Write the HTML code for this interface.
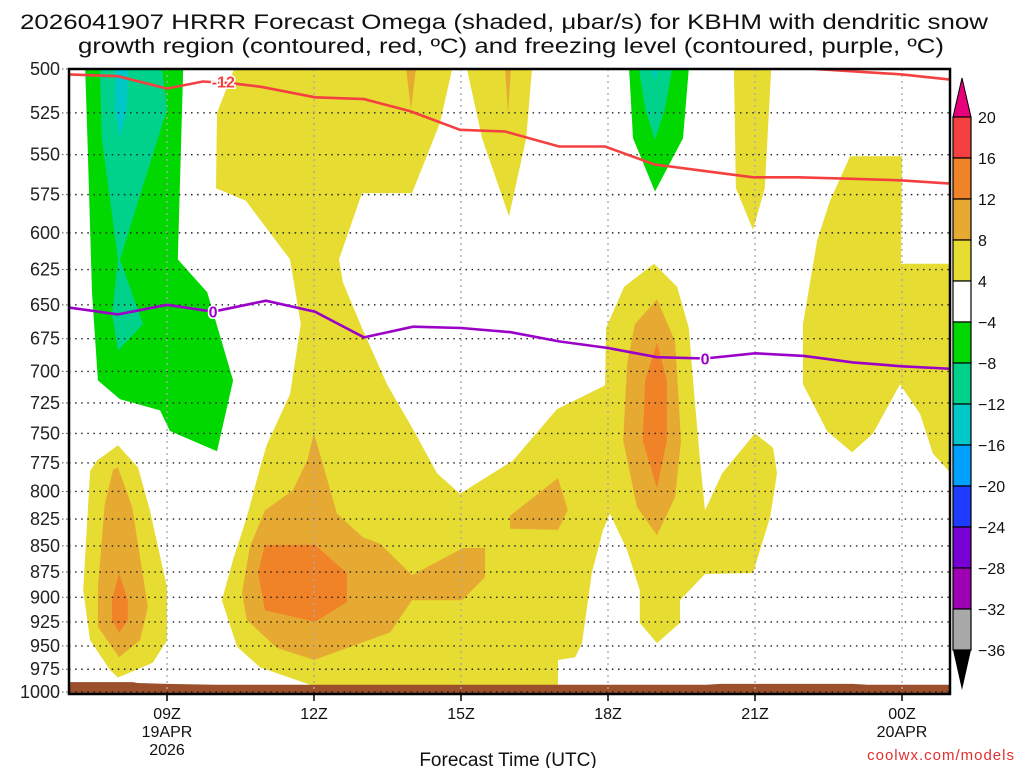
<!DOCTYPE html>
<html><head><meta charset="utf-8"><style>
html,body{margin:0;padding:0;background:#fff;}
svg{display:block;font-family:"Liberation Sans",sans-serif;}
</style></head><body>
<svg id="chart" width="1024" height="768" viewBox="0 0 1024 768" xmlns="http://www.w3.org/2000/svg">
<text x="20" y="29" font-size="21" textLength="968" lengthAdjust="spacingAndGlyphs" fill="#111">2026041907 HRRR Forecast Omega (shaded, μbar/s) for KBHM with dendritic snow</text>
<text x="78" y="53" font-size="21" textLength="866" lengthAdjust="spacingAndGlyphs" fill="#111">growth region (contoured, red, ºC) and freezing level (contoured, purple, ºC)</text>
<g id="plot"></g>
<g id="axes"></g>
<g id="cbar"></g>
<text x="508" y="766" font-size="19" text-anchor="middle" fill="#111">Forecast Time (UTC)</text>
<text x="1015" y="760" font-size="15" text-anchor="end" fill="#e03030" letter-spacing="1">coolwx.com/models</text>
</svg>
<script>
// ---- data (hour of forecast, pressure hPa) ----
const pressureTicks=[500,525,550,575,600,625,650,675,700,725,750,775,800,825,850,875,900,925,950,975,1000];
const timeTickHours=[9,12,15,18,21,24];
const timeTickLabels=[["09Z","19APR","2026"],["12Z"],["15Z"],["18Z"],["21Z"],["00Z","20APR"]];
const cbarLevels=[20,16,12,8,4,-4,-8,-12,-16,-20,-24,-28,-32,-36];
const cbarColors=["#f44040","#f08228","#e6aa32","#e6dc32","#ffffff","#00d800","#00d28c","#00c8c8","#00a0ff","#1e3cff","#7800d2","#a000b4","#a8a8a8"];
// shaded regions
const greenWest=[[7.33,500],[9.33,500],[9.22,618],[9.82,641],[10.35,707],[10.02,765],[9.06,748],[8.86,731],[8.04,722],[7.59,707],[7.47,641],[7.37,534]];
const tealWest=[[7.63,500],[8.9,500],[9.0,523],[8.04,618],[8.51,664],[8.0,684],[7.88,656],[8.0,618],[7.67,540]];
const cyanWest=[[7.94,500],[8.2,500],[8.18,523],[8.04,540],[7.94,523]];
const greenEast=[[18.43,500],[19.65,500],[19.53,540],[18.96,573],[18.51,540]];
const tealEast=[[18.63,500],[19.31,500],[19.16,523],[18.96,541],[18.76,523]];
const cyanEast=[[18.9,500],[19.02,500],[18.96,506]];
const yellowMain=[[10.37,500],[14.82,500],[14.57,531],[14.0,574],[12.98,574],[12.51,618],[12.59,634],[12.98,667],[13.49,710],[14.04,748],[14.51,784],[14.98,802],[16.06,773],[16.96,730],[17.94,711],[17.96,667],[18.33,637],[18.94,621],[19.41,637],[19.65,667],[19.76,718],[19.88,773],[19.98,817],[20.33,784],[21.0,750],[21.37,762],[21.45,784],[21.31,823],[20.96,876],[19.98,877],[19.47,903],[19.47,926],[19.0,947],[18.65,926],[18.65,893],[18.39,854],[18.04,820],[17.9,835],[17.67,876],[17.47,947],[17.33,962],[16.98,965],[16.98,995],[12.84,995],[11.98,993],[10.9,973],[10.43,951],[10.12,903],[10.35,863],[10.63,823],[10.9,779],[11.04,759],[11.51,718],[11.73,664],[11.51,618],[11.08,599],[10.61,579],[10.0,571],[10.02,525]];
const yellowLobe16=[[15.12,500],[15.43,540],[15.98,589],[16.33,540],[16.45,500]];
const yellowLobe21=[[20.57,500],[20.61,571],[20.96,598],[21.2,571],[21.33,500]];
const yellowEast=[[22.94,551],[24.0,551],[23.98,621],[25.0,621],[25.0,784],[24.63,767],[24.37,734],[23.96,710],[23.41,750],[22.98,766],[22.47,748],[21.98,710],[21.98,664],[22.27,605],[22.53,579]];
const yellowWest=[[8.0,760],[8.41,779],[8.65,817],[9.0,890],[9.0,944],[8.71,968],[8.0,984],[7.84,976],[7.43,944],[7.29,893],[7.43,782],[7.57,773]];
const orangeWest=[[8.0,779],[8.29,814],[8.61,910],[8.45,944],[8.02,962],[7.59,930],[7.59,890],[7.73,811],[7.9,781]];
const darkOrangeWest=[[8.02,876],[8.2,903],[8.2,923],[8.02,936],[7.88,923],[7.88,903]];
const orangeMain=[[12.0,750],[12.47,820],[13.0,842],[13.35,848],[14.0,878],[15.04,852],[15.49,852],[15.49,880],[15.02,903],[14.0,903],[13.55,936],[13.0,946],[12.0,965],[11.24,952],[10.63,923],[10.53,896],[10.69,851],[11.0,817],[11.57,799],[11.86,773]];
const darkOrangeMain=[[11.0,849],[12.02,849],[12.67,876],[12.67,905],[12.02,925],[11.0,913],[10.86,876]];
const orangeSmall=[[16.0,822],[16.98,788],[17.18,817],[16.98,835],[16.0,834]];
const orange19=[[19.0,646],[19.37,677],[19.49,756],[19.37,805],[19.0,840],[18.59,814],[18.31,756],[18.39,694],[18.55,664]];
const darkOrange19=[[19.0,678],[19.2,707],[19.2,756],[19.0,797],[18.71,756],[18.76,707]];
const orangeSliverA=[[13.88,500],[14.08,500],[13.98,523]];
const orangeSliverB=[[15.9,500],[16.02,500],[15.96,525]];
// contour lines
const dgzHours=[7,8,9,9.73,10.33,10.92,12.02,13.02,13.96,14.98,15.9,17,17.94,18.94,19.96,20.96,21.88,23,24,25];
const dgzPressure=[503,504,511,507,508,510,516,517,524,535,536,545,545,556,560,564,564,565,566,568];
const dgz2Hours=[22.22,24,25];
const dgz2Pressure=[500,503,506];
const frzHours=[7,8,9,9.94,11.02,12.02,13.02,14.02,15,16,17,18,19,19.98,21,22,23,24,25];
const frzPressure=[652,657,650,655,647,655,674,666,667,670,677,682,689,690,686,688,693,696,698];
const sfcHours=[7,8,8.3,8.4,9,10,12,14,16,18,20,20.3,21,22,23,23.3,25];
const sfcPressure=[989,989,989,990,991,992,992,992,992,992,992,991,991,991,991,992,992];

// ---- scales ----
const X0=69,X1=950,Y0=69,Y1=692;
function xS(h){return X0+(h-7)*49;}
function yS(p){return Y0+Math.log(p/500)/Math.log(2)*(Y1-Y0);}
const NS="http://www.w3.org/2000/svg";
function mk(tag,parent){const e=document.createElementNS(NS,tag);parent.appendChild(e);return e;}
const plot=document.getElementById('plot'),axes=document.getElementById('axes'),cbar=document.getElementById('cbar');

const clip=mk('clipPath',plot);clip.setAttribute('id','pc');
const cr=mk('rect',clip);cr.setAttribute('x',X0);cr.setAttribute('y',Y0);cr.setAttribute('width',X1-X0);cr.setAttribute('height',694-Y0);
const g=mk('g',plot);g.setAttribute('clip-path','url(#pc)');

function poly(pts,color,name){
  const e=mk('polygon',g);
  e.setAttribute('points',pts.map(q=>xS(q[0]).toFixed(1)+','+yS(q[1]).toFixed(1)).join(' '));
  e.setAttribute('fill',color);
  
  
}
poly(greenWest,'#00d800','omega-region-green-west');
poly(tealWest,'#00d28c','omega-region-teal-west');
poly(cyanWest,'#00c8c8','omega-region-cyan-west');
poly(greenEast,'#00d800','omega-region-green-east');
poly(tealEast,'#00d28c','omega-region-teal-east');
poly(cyanEast,'#00c8c8','omega-region-cyan-east');
poly(yellowMain,'#e6dc32','omega-region-yellow-main');
poly(yellowLobe16,'#e6dc32','omega-region-yellow-lobe-16z');
poly(yellowLobe21,'#e6dc32','omega-region-yellow-lobe-21z');
poly(yellowEast,'#e6dc32','omega-region-yellow-east');
poly(yellowWest,'#e6dc32','omega-region-yellow-west');
poly(orangeWest,'#e6aa32','omega-region-orange-west');
poly(darkOrangeWest,'#f08228','omega-region-darkorange-west');
poly(orangeMain,'#e6aa32','omega-region-orange-main');
poly(darkOrangeMain,'#f08228','omega-region-darkorange-main');
poly(orangeSmall,'#e6aa32','omega-region-orange-small');
poly(orange19,'#e6aa32','omega-region-orange-19z');
poly(darkOrange19,'#f08228','omega-region-darkorange-19z');
poly(orangeSliverA,'#e6aa32','omega-sliver-a');
poly(orangeSliverB,'#e6aa32','omega-sliver-b');

// ground
const gp=sfcHours.map((h,i)=>xS(h).toFixed(1)+','+yS(sfcPressure[i]).toFixed(1));
const ground=mk('polygon',g);
ground.setAttribute('points',gp.join(' ')+' '+xS(25)+',696 '+xS(7)+',696');
ground.setAttribute('fill','#9c4f2b');



// grid
pressureTicks.forEach(p=>{
  const l=mk('line',g);l.setAttribute('x1',X0);l.setAttribute('x2',X1);l.setAttribute('y1',yS(p));l.setAttribute('y2',yS(p));
  l.setAttribute('stroke','#222');l.setAttribute('stroke-width','1.4');l.setAttribute('stroke-dasharray','1.5 4.6');
  
  
});
timeTickHours.forEach(h=>{
  const l=mk('line',g);l.setAttribute('x1',xS(h));l.setAttribute('x2',xS(h));l.setAttribute('y1',Y0);l.setAttribute('y2',Y1);
  l.setAttribute('stroke','#aaa');l.setAttribute('stroke-width','1.4');l.setAttribute('stroke-dasharray','2 4');
  
  
});

function line(hs,ps,color,name){
  const e=mk('polyline',g);
  e.setAttribute('points',hs.map((h,i)=>xS(h).toFixed(1)+','+yS(ps[i]).toFixed(1)).join(' '));
  e.setAttribute('fill','none');e.setAttribute('stroke',color);e.setAttribute('stroke-width','2.6');
  
  
}
line(dgzHours,dgzPressure,'#f44040','dgz-contour-minus12');
line(dgz2Hours,dgz2Pressure,'#f44040','dgz-contour-minus12-east');
line(frzHours,frzPressure,'#9b00c8','freezing-level-contour');
function clabel(h,p,txt,color,name){
  const t=mk('text',g);t.setAttribute('x',xS(h));t.setAttribute('y',yS(p)+6);t.setAttribute('font-size','16');t.setAttribute('font-weight','bold');
  t.setAttribute('text-anchor','middle');t.setAttribute('fill',color);t.setAttribute('stroke','#fff');t.setAttribute('stroke-width','3');t.setAttribute('paint-order','stroke');
  t.textContent=txt;
  
  
}
clabel(dgzHours[3]+0.42,507,'-12','#f44040','dgz-contour-label');
clabel(frzHours[3],frzPressure[3],'0','#9b00c8','freezing-label-west');
clabel(frzHours[13],frzPressure[13],'0','#9b00c8','freezing-label-east');

// frame
const fr=mk('rect',axes);fr.setAttribute('x',X0);fr.setAttribute('y',Y0);fr.setAttribute('width',X1-X0);fr.setAttribute('height',694-Y0);
fr.setAttribute('fill','none');fr.setAttribute('stroke','#000');fr.setAttribute('stroke-width','2.5');



pressureTicks.forEach(p=>{
  const t=mk('text',axes);t.setAttribute('x',60);t.setAttribute('y',yS(p)+6);t.setAttribute('font-size','18');t.setAttribute('text-anchor','end');t.setAttribute('fill','#222');
  t.textContent=p;
  
  
  const l=mk('line',axes);l.setAttribute('x1',62);l.setAttribute('x2',X0);l.setAttribute('y1',yS(p));l.setAttribute('y2',yS(p));l.setAttribute('stroke','#555');l.setAttribute('stroke-dasharray','1.5 2.5');
  
  
});
timeTickHours.forEach((h,i)=>{
  const l=mk('line',axes);l.setAttribute('x1',xS(h));l.setAttribute('x2',xS(h));l.setAttribute('y1',694);l.setAttribute('y2',701);l.setAttribute('stroke','#000');l.setAttribute('stroke-width','1.5');
  
  
  timeTickLabels[i].forEach((s,j)=>{
    const t=mk('text',axes);t.setAttribute('x',xS(h));t.setAttribute('y',719+j*18);t.setAttribute('font-size','16');t.setAttribute('text-anchor','middle');t.setAttribute('fill','#111');
    t.textContent=s;
    
    
  });
});

// colorbar
const CBX=953,CBW=18,CBT=117,CBS=41;
const tri=mk('polygon',cbar);tri.setAttribute('points',`${CBX},${CBT} ${CBX+CBW},${CBT} ${CBX+CBW/2},78`);tri.setAttribute('fill','#e6007a');tri.setAttribute('stroke','#000');


cbarColors.forEach((c,i)=>{
  const r=mk('rect',cbar);r.setAttribute('x',CBX);r.setAttribute('y',CBT+i*CBS);r.setAttribute('width',CBW);r.setAttribute('height',CBS);r.setAttribute('fill',c);r.setAttribute('stroke','#000');r.setAttribute('stroke-width','1.2');
  
  
});
const bot=CBT+cbarColors.length*CBS;
const tri2=mk('polygon',cbar);tri2.setAttribute('points',`${CBX},${bot} ${CBX+CBW},${bot} ${CBX+CBW/2},690`);tri2.setAttribute('fill','#000');


cbarLevels.forEach((v,i)=>{
  const t=mk('text',cbar);t.setAttribute('x',978);t.setAttribute('y',CBT+i*CBS+6);t.setAttribute('font-size','16');t.setAttribute('fill','#111');
  t.textContent=v<0?'\u2212'+(-v):String(v);
  
  
});
</script>
</body></html>
